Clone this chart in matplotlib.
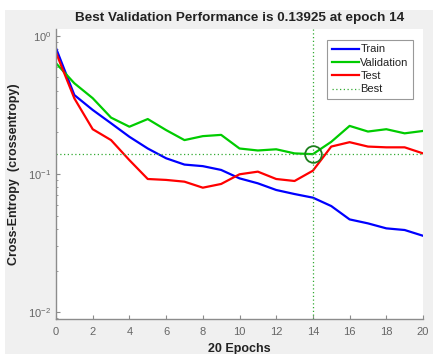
import matplotlib
matplotlib.use("Agg")
import matplotlib.pyplot as plt
from matplotlib.patches import Rectangle
from matplotlib.ticker import LogLocator, FixedLocator, NullFormatter

plt.rcParams['font.family'] = ['Liberation Sans', 'DejaVu Sans']

epochs = list(range(21))
train = [0.815, 0.373, 0.291, 0.233, 0.186, 0.153, 0.130, 0.117, 0.114, 0.107,
         0.093, 0.0856, 0.0766, 0.0716, 0.0674, 0.0586, 0.0469, 0.0439, 0.0404,
         0.0393, 0.0357]
validation = [0.634, 0.454, 0.354, 0.256, 0.220, 0.250, 0.208, 0.176, 0.188, 0.192,
              0.153, 0.148, 0.151, 0.141, 0.13925, 0.171, 0.223, 0.203, 0.211,
              0.197, 0.205]
test = [0.757, 0.353, 0.211, 0.176, 0.126, 0.092, 0.0906, 0.088, 0.0796, 0.0847,
        0.0995, 0.104, 0.092, 0.089, 0.1057, 0.158, 0.170, 0.158, 0.156, 0.156,
        0.141]
best_epoch = 14
best_value = 0.13925
xticks = list(range(0, 21, 2))

W, H = 433, 354
fig = plt.figure(figsize=(W / 100, H / 100), dpi=100, facecolor='white')
fig.patches.append(Rectangle((5 / W, 0), 1 - 5 / W, 1 - 10 / H,
                             transform=fig.transFigure, facecolor='#f0f0f0',
                             edgecolor='none', zorder=-10))

ax = fig.add_axes([56 / W, 1 - 319 / H, (423 - 56) / W, (319 - 29) / H])
ax.set_facecolor('white')

ax.plot(epochs, train, color='#0000ff', lw=1.6, label='Train')
ax.plot(epochs, validation, color='#00cc00', lw=1.6, label='Validation')
ax.plot(epochs, test, color='#ff0000', lw=1.6, label='Test')
ax.axvline(best_epoch, color='#33aa33', lw=0.9, ls=(0, (1, 2)), label='Best')
ax.axhline(best_value, color='#33aa33', lw=0.9, ls=(0, (1, 2)))
ax.plot([best_epoch], [best_value], marker='o', ms=12, mfc='none',
        mec='#1d7f1d', mew=1.3, ls='none')

ax.set_yscale('log')
ax.set_xlim(0, 20)
ax.set_ylim(10 ** -2.05, 10 ** 0.05)
ax.xaxis.set_major_locator(FixedLocator(xticks))
ax.yaxis.set_major_locator(LogLocator(base=10, numticks=5))
ax.yaxis.set_minor_locator(LogLocator(base=10, subs=(2, 3, 4, 5, 6, 7, 8, 9), numticks=10))
ax.yaxis.set_minor_formatter(NullFormatter())

for s in ('top', 'right'):
    ax.spines[s].set_visible(False)
for s in ('left', 'bottom'):
    ax.spines[s].set_color('#8c8c8c')
    ax.spines[s].set_linewidth(1.0)
ax.tick_params(which='both', direction='in', colors='#8c8c8c',
               labelcolor='#666666', labelsize=8)
ax.tick_params(which='major', length=3)
ax.tick_params(which='minor', length=1.5)
ax.tick_params(axis='x', pad=6)

ax.set_title('Best Validation Performance is 0.13925 at epoch 14',
             fontsize=9.7, fontweight='bold', color='#222222', pad=6)
ax.set_xlabel('20 Epochs', fontsize=9, fontweight='bold', color='#222222', labelpad=4)
ax.set_ylabel('Cross-Entropy  (crossentropy)', fontsize=9, fontweight='bold',
              color='#222222', labelpad=6)

leg = ax.legend(loc='upper right', bbox_to_anchor=(0.973, 0.962), fontsize=8,
                frameon=True, fancybox=False, handlelength=2.4,
                handletextpad=0.15, borderpad=0.4, labelspacing=0.3,
                borderaxespad=0)
leg.get_frame().set_edgecolor('#808080')
leg.get_frame().set_linewidth(0.8)
for t in leg.get_texts():
    t.set_color('#222222')

fig.savefig('out.png', dpi=100, facecolor=fig.get_facecolor())
